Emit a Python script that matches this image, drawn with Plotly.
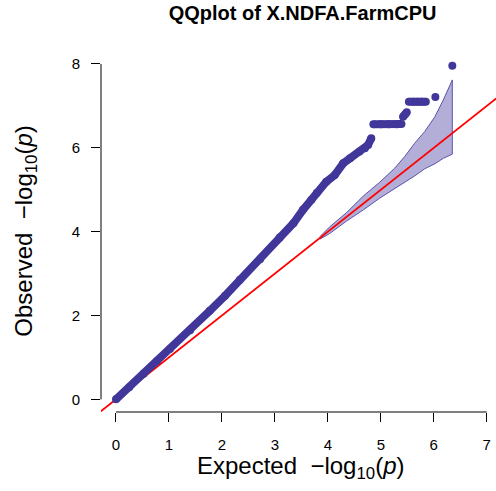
import plotly.graph_objects as go

# Expected vs observed -log10(p), read along the point cloud (None = gap)
expected = [0.00, 0.25, 0.52, 0.77, 1.02, 1.40, 1.77, 2.06, 2.34, 2.72, 3.09,
            3.35, 3.53, 3.69, 3.79, 3.97, 4.13, 4.29, 4.42, 4.60, 4.70, 4.76, 4.82,
            None,
            4.86, 5.00, 5.15, 5.30, 5.39,
            None,
            5.42, 5.46, 5.49,
            None,
            5.53, 5.61, 5.69, 5.77, 5.85,
            None, 6.03,
            None, 6.35]
observed = [0.00, 0.29, 0.61, 0.91, 1.20, 1.65, 2.11, 2.47, 2.85, 3.34, 3.86,
            4.20, 4.52, 4.76, 4.92, 5.19, 5.35, 5.63, 5.75, 5.91, 5.99, 6.07, 6.23,
            None,
            6.56, 6.56, 6.56, 6.56, 6.57,
            None,
            6.74, 6.80, 6.85,
            None,
            7.10, 7.10, 7.10, 7.10, 7.10,
            None, 7.21,
            None, 7.96]

# 95% confidence band around the null line
band_x = [3.85, 4.04, 4.35, 4.67, 4.98, 5.26, 5.45, 5.64, 5.83, 6.02, 6.18, 6.35]
band_upper = [3.88, 4.12, 4.45, 4.85, 5.18, 5.51, 5.79, 6.11, 6.39, 6.74, 7.14, 7.62]
band_lower = [3.82, 3.96, 4.25, 4.52, 4.80, 5.03, 5.18, 5.33, 5.50, 5.62, 5.75, 5.85]

x_ticks = [0, 1, 2, 3, 4, 5, 6, 7]
y_ticks = [0, 2, 4, 6, 8]

point_color = "#41379A"
band_fill = "rgba(178,174,216,1)"
band_line = "#5B53AA"
font_family = "Liberation Sans"

x_range = [-0.283, 7.175]
y_range = [-0.303, 8.31]

fig = go.Figure()

fig.add_trace(go.Scatter(
    x=band_x + band_x[::-1],
    y=band_upper + band_lower[::-1],
    fill="toself", fillcolor=band_fill,
    mode="lines", line=dict(color=band_line, width=1),
    hoverinfo="skip", showlegend=False))

# y = x reference line across the whole axis span
fig.add_trace(go.Scatter(
    x=[x_range[0] - 1, x_range[1] + 2], y=[x_range[0] - 1, x_range[1] + 2],
    mode="lines", line=dict(color="#FF0000", width=1.8),
    hoverinfo="skip", showlegend=False))

fig.add_trace(go.Scatter(
    x=expected, y=observed, mode="lines+markers", connectgaps=False,
    line=dict(color=point_color, width=8),
    marker=dict(color=point_color, size=8),
    showlegend=False))

axis_common = dict(
    showgrid=False, zeroline=False, showline=False,
    ticks="outside", ticklen=9, tickwidth=1, tickcolor="black",
    tickfont=dict(family=font_family, size=15, color="black"),
)
fig.update_xaxes(range=x_range, tickvals=x_ticks, ticklabelstandoff=10, **axis_common)
fig.update_yaxes(range=y_range, tickvals=y_ticks, ticklabelstandoff=8, **axis_common)

# R-style axis lines spanning only the tick range
fig.add_shape(type="line", xref="x", yref="paper", x0=x_ticks[0], x1=x_ticks[-1],
              y0=0, y1=0, line=dict(color="black", width=1), layer="above")
fig.add_shape(type="line", xref="paper", yref="y", x0=0, x1=0,
              y0=y_ticks[0], y1=y_ticks[-1], line=dict(color="black", width=1), layer="above")

fig.update_layout(
    title=dict(text="<b>QQplot of X.NDFA.FarmCPU</b>", x=0.61, xanchor="center",
               y=0.973, yanchor="middle",
               font=dict(family=font_family, size=20, color="black")),
)
fig.add_annotation(text="Expected  \u2212log<sub>10</sub>(<i>p</i>)", xref="paper", yref="paper",
                   x=0.505, y=-0.155, xanchor="center", yanchor="middle", showarrow=False,
                   font=dict(family=font_family, size=24, color="black"))
fig.add_annotation(text="Observed  \u2212log<sub>10</sub>(<i>p</i>)", xref="paper", yref="paper",
                   x=-0.192, y=0.5, xanchor="center", yanchor="middle", showarrow=False,
                   textangle=-90,
                   font=dict(family=font_family, size=24, color="black"))

fig.update_layout(
    width=496, height=491,
    margin=dict(l=101, r=0, t=51, b=79),
    paper_bgcolor="white", plot_bgcolor="white",
)

fig.write_html("out.html")
